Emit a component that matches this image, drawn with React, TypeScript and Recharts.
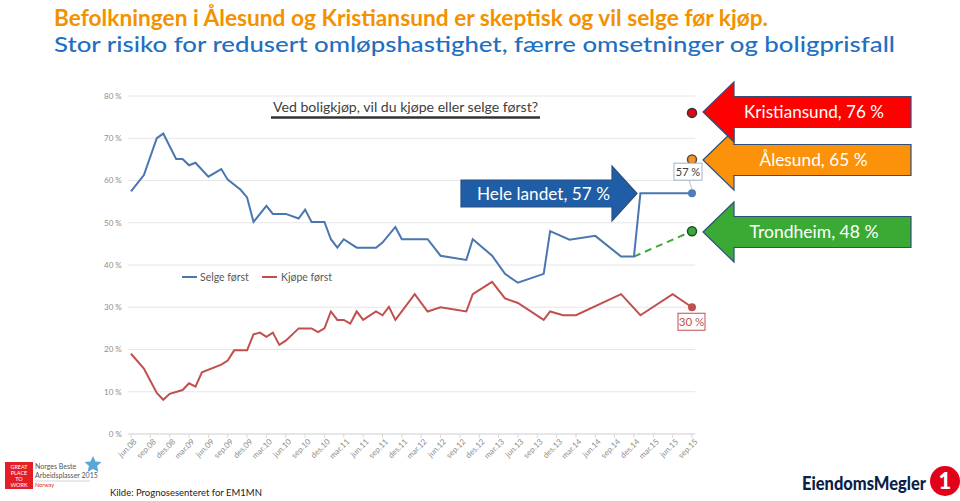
import React from 'react';
import { LineChart, Line, XAxis, YAxis, CartesianGrid, ReferenceDot, Legend } from 'recharts';

const MONTH_NAMES = ['jan', 'feb', 'mar', 'apr', 'mai', 'jun', 'jul', 'aug', 'sep', 'okt', 'nov', 'des'];

// monthly categories jun.08 .. sep.15, labelled every third month
export const months = Array.from({ length: 88 }, (_, i) => {
  const k = i + 5;
  return `${MONTH_NAMES[k % 12]}.${String(8 + Math.floor(k / 12)).padStart(2, '0')}`;
});

const yTicks = [0, 10, 20, 30, 40, 50, 60, 70, 80];

// Hele landet - "Selge først" (%), months without survey are left out
const selgeForst: [string, number][] = [
  ['jun.08', 57.4], ['aug.08', 61.3], ['okt.08', 70.0], ['nov.08', 71.1], ['jan.09', 65.1],
  ['feb.09', 65.1], ['mar.09', 63.6], ['apr.09', 64.2], ['jun.09', 60.9], ['aug.09', 62.7],
  ['sep.09', 60.2], ['nov.09', 57.8], ['des.09', 56.0], ['jan.10', 50.2], ['mar.10', 54.0],
  ['apr.10', 52.1], ['jun.10', 52.1], ['aug.10', 51.0], ['sep.10', 53.1], ['okt.10', 50.2],
  ['des.10', 50.2], ['jan.11', 46.1], ['feb.11', 44.1], ['mar.11', 46.1], ['mai.11', 44.1],
  ['aug.11', 44.1], ['sep.11', 45.3], ['nov.11', 49.0], ['des.11', 46.1], ['apr.12', 46.1],
  ['jun.12', 42.2], ['okt.12', 41.2], ['nov.12', 46.1], ['feb.13', 42.2], ['apr.13', 37.9],
  ['jun.13', 35.8], ['okt.13', 37.9], ['nov.13', 48.0], ['feb.14', 46.0], ['jun.14', 46.9],
  ['okt.14', 42.0], ['des.14', 42.0], ['jan.15', 57.0], ['sep.15', 57.0],
];

// Hele landet - "Kjøpe først" (%)
const kjopeForst: [string, number][] = [
  ['jun.08', 19.0], ['aug.08', 15.5], ['okt.08', 9.7], ['nov.08', 8.1], ['des.08', 9.5],
  ['feb.09', 10.4], ['mar.09', 12.0], ['apr.09', 11.2], ['mai.09', 14.6], ['aug.09', 16.4],
  ['sep.09', 17.4], ['okt.09', 19.8], ['des.09', 19.8], ['jan.10', 23.6], ['feb.10', 24.0],
  ['mar.10', 23.0], ['apr.10', 24.0], ['mai.10', 21.1], ['jun.10', 22.1], ['aug.10', 25.0],
  ['okt.10', 25.0], ['nov.10', 24.1], ['des.10', 25.0], ['jan.11', 29.0], ['feb.11', 27.0],
  ['mar.11', 27.0], ['apr.11', 26.1], ['mai.11', 29.0], ['jun.11', 27.0], ['aug.11', 29.0],
  ['sep.11', 28.1], ['okt.11', 30.1], ['nov.11', 27.0], ['feb.12', 33.1], ['apr.12', 29.0],
  ['jun.12', 30.0], ['okt.12', 29.0], ['nov.12', 33.1], ['feb.13', 36.0], ['apr.13', 32.1],
  ['jun.13', 31.0], ['okt.13', 27.0], ['nov.13', 29.0], ['jan.14', 28.1], ['mar.14', 28.1],
  ['okt.14', 33.1], ['jan.15', 28.1], ['jun.15', 33.1], ['sep.15', 30.0],
];

// dashed trend to Trondheim
const trondheimTrend: [string, number][] = [['des.14', 42], ['sep.15', 48]];

const cityMarkers = [
  { name: 'Kristiansund', value: 76, fill: '#e30613', stroke: '#333333' },
  { name: 'Ålesund', value: 65, fill: '#f7931e', stroke: '#4d4d4d' },
  { name: 'Trondheim', value: 48, fill: '#3aaa35', stroke: '#1d4d2a' },
];

const BLUE = '#4a76b0';
const RED = '#c0504d';
const FONT = 'Lato, "Liberation Sans", sans-serif';

const selgeMap = new Map(selgeForst);
const kjopeMap = new Map(kjopeForst);
const trondMap = new Map(trondheimTrend);

const data = months.map(m => ({
  month: m,
  selge: selgeMap.get(m) ?? null,
  kjope: kjopeMap.get(m) ?? null,
  trondheim: trondMap.get(m) ?? null,
}));

const LAST = months.length - 1;

const XTick = ({ x, y, payload }: any) => (
  <g transform={`translate(${x + 4},${y})`}>
    <text transform="rotate(-45)" textAnchor="end" dy={3} fontSize={8} fill="#8c8c8c" fontFamily={FONT}>
      {payload.value}
    </text>
  </g>
);

const SelgeDot = (props: any) => {
  const { cx, cy, index, value } = props;
  if (index !== LAST || cy == null) return <g key={`s-${index}`} />;
  return (
    <g key="s-end">
      <line x1={cx} y1={cy - 4} x2={cx - 3} y2={cy - 13} stroke="#b0b0b0" strokeWidth={0.8} />
      <rect x={cx - 18} y={cy - 30} width={28} height={17} fill="#fff" stroke="#9fb3cf" />
      <text x={cx - 4} y={cy - 17.5} textAnchor="middle" fontSize={11} fill="#404040" fontFamily={FONT}>
        {`${Math.round(value)} %`}
      </text>
      <circle cx={cx} cy={cy} r={4} fill="#4f7bb6" />
    </g>
  );
};

const KjopeDot = (props: any) => {
  const { cx, cy, index, value } = props;
  if (index !== LAST || cy == null) return <g key={`k-${index}`} />;
  return (
    <g key="k-end">
      <circle cx={cx} cy={cy} r={4} fill={RED} />
      <rect x={cx - 14} y={cy + 6} width={27} height={17} fill="#fff" stroke={RED} />
      <text x={cx - 0.5} y={cy + 19} textAnchor="middle" fontSize={11.5} fill={RED} fontFamily={FONT}>
        {`${Math.round(value)} %`}
      </text>
    </g>
  );
};

const LegendContent = () => (
  <svg width={170} height={16}>
    <line x1={2} x2={17} y1={8} y2={8} stroke={BLUE} strokeWidth={2} />
    <text x={20} y={12} fontSize={10.5} fill="#595959" fontFamily={FONT}>Selge først</text>
    <line x1={82} x2={97} y1={8} y2={8} stroke={RED} strokeWidth={2} />
    <text x={101} y={12} fontSize={10.5} fill="#595959" fontFamily={FONT}>Kjøpe først</text>
  </svg>
);

// left pointing block arrow
const leftArrow = (tipX: number, tipY: number, baseX: number, endX: number, headH: number, bodyH: number) =>
  `M${tipX},${tipY} L${baseX},${tipY - headH} L${baseX},${tipY - bodyH} L${endX},${tipY - bodyH} ` +
  `L${endX},${tipY + bodyH} L${baseX},${tipY + bodyH} L${baseX},${tipY + headH} Z`;

const rightArrow = (tipX: number, tipY: number, baseX: number, startX: number, headH: number, bodyH: number) =>
  `M${tipX},${tipY} L${baseX},${tipY - headH} L${baseX},${tipY - bodyH} L${startX},${tipY - bodyH} ` +
  `L${startX},${tipY + bodyH} L${baseX},${tipY + bodyH} L${baseX},${tipY + headH} Z`;

const Overlay = () => (
  <svg width={960} height={501} style={{ position: 'absolute', left: 0, top: 0, pointerEvents: 'none' }}>
    <text x={54} y={26} fontSize={22} fontWeight={700} fill="#f39200" fontFamily={FONT}
      textLength={714} lengthAdjust="spacingAndGlyphs">
      Befolkningen i Ålesund og Kristiansund er skeptisk og vil selge før kjøp.
    </text>
    <text x={54} y={52} fontSize={22} fontWeight={500} fill="#1f6fc2" fontFamily={FONT}
      textLength={841} lengthAdjust="spacingAndGlyphs">
      Stor risiko for redusert omløpshastighet, færre omsetninger og boligprisfall
    </text>

    <text x={273} y={112} fontSize={14} fill="#404040" fontFamily={FONT}
      textLength={265} lengthAdjust="spacingAndGlyphs">
      Ved boligkjøp, vil du kjøpe eller selge først?
    </text>
    <line x1={271} x2={540} y1={117.5} y2={117.5} stroke="#333" strokeWidth={2.5} />

    <path d={leftArrow(703, 160, 734, 911, 30, 15.5)} fill="#fb9209" stroke="#2f4f7f" strokeWidth={1.2} />
    <path d={leftArrow(703, 112, 734, 911, 30, 15.5)} fill="#ff0000" stroke="#2f4f7f" strokeWidth={1.2} />
    <path d={leftArrow(703, 232, 734, 911, 30, 15.5)} fill="#3aaa35" stroke="#2f4f7f" strokeWidth={1.2} />
    <path d={rightArrow(637, 193.5, 612, 461, 27.5, 13.5)} fill="#1f5ea6" stroke="#2f4f7f" strokeWidth={1.2} />

    <text x={814} y={118} textAnchor="middle" fontSize={17} fill="#fff" fontFamily={FONT}
      textLength={140} lengthAdjust="spacingAndGlyphs">Kristiansund, 76 %</text>
    <text x={813.5} y={166} textAnchor="middle" fontSize={17} fill="#fff" fontFamily={FONT}
      textLength={108} lengthAdjust="spacingAndGlyphs">Ålesund, 65 %</text>
    <text x={814} y={238} textAnchor="middle" fontSize={17} fill="#fff" fontFamily={FONT}
      textLength={129} lengthAdjust="spacingAndGlyphs">Trondheim, 48 %</text>
    <text x={543.5} y={199.5} textAnchor="middle" fontSize={17} fill="#fff" fontFamily={FONT}
      textLength={133} lengthAdjust="spacingAndGlyphs">Hele landet, 57 %</text>

    {/* Great Place to Work badge */}
    <rect x={5} y={462} width={28} height={27} fill="#e31e24" />
    <text x={19} y={468.5} textAnchor="middle" fontSize={5.5} fill="#fff" fontFamily={FONT}>GREAT</text>
    <text x={19} y={474.5} textAnchor="middle" fontSize={5.5} fill="#fff" fontFamily={FONT}>PLACE</text>
    <text x={19} y={480.5} textAnchor="middle" fontSize={5.5} fill="#fff" fontFamily={FONT}>TO</text>
    <text x={19} y={486.5} textAnchor="middle" fontSize={5.5} fill="#fff" fontFamily={FONT}>WORK</text>
    <text x={35} y={469} fontSize={7} fill="#555" fontFamily={FONT}>Norges Beste</text>
    <text x={35} y={478} fontSize={7} fill="#555" fontFamily={FONT}>Arbeidsplasser 2015</text>
    <line x1={35} x2={90} y1={481} y2={481} stroke="#bbb" strokeWidth={0.6} />
    <text x={35} y={487} fontSize={5.5} fill="#e31e24" fontFamily={FONT}>Norway</text>
    <path d="M93,456 L95.5,461.5 L101.5,462 L97,466 L98.5,472 L93,469 L87.5,472 L89,466 L84.5,462 L90.5,461.5 Z"
      fill="#5aa7d6" />
    <text x={110} y={496} fontSize={9.5} fill="#222" fontFamily={FONT}>Kilde: Prognosesenteret for EM1MN</text>

    {/* EiendomsMegler 1 logo */}
    <text x={802} y={490} fontSize={18} fontWeight={900} fill="#0b1f4b" fontFamily={FONT}
      textLength={124} lengthAdjust="spacingAndGlyphs">EiendomsMegler</text>
    <circle cx={945} cy={481} r={15} fill="#e2001a" />
    <text x={945} y={489} textAnchor="middle" fontSize={22} fontWeight={900} fill="#fff" fontFamily={FONT}>1</text>
  </svg>
);

const App = () => (
  <div style={{ position: 'absolute', left: 0, top: 0, width: 960, height: 501, background: '#fff', overflow: 'hidden' }}>
    <LineChart width={960} height={501} data={data} margin={{ top: 96, right: 264.8, bottom: 27, left: 0 }}>
      <CartesianGrid vertical={false} stroke="#e6e6e6" />
      <XAxis
        dataKey="month"
        interval={2}
        padding={{ left: 3.2, right: 3.2 }}
        height={40}
        tick={<XTick />}
        tickSize={4}
        tickMargin={2}
        axisLine={{ stroke: '#d9d9d9' }}
        tickLine={{ stroke: '#d9d9d9' }}
      />
      <YAxis
        domain={[0, 80]}
        ticks={yTicks}
        width={127.8}
        axisLine={false}
        tickLine={false}
        tickMargin={0}
        tickSize={6}
        tickFormatter={(v: number) => `${v} %`}
        tick={{ fontSize: 8, fill: '#8c8c8c', fontFamily: FONT }}
      />
      <Legend verticalAlign="middle" align="center" content={<LegendContent />}
        wrapperStyle={{ left: 180, top: 269, width: 170, height: 16 }} />
      <Line type="linear" dataKey="trondheim" stroke="#3aaa35" strokeWidth={2} strokeDasharray="7 5"
        connectNulls dot={false} isAnimationActive={false} legendType="none" />
      <Line type="linear" dataKey="selge" stroke={BLUE} strokeWidth={2} connectNulls
        dot={SelgeDot} activeDot={false} isAnimationActive={false} />
      <Line type="linear" dataKey="kjope" stroke={RED} strokeWidth={2} connectNulls
        dot={KjopeDot} activeDot={false} isAnimationActive={false} />
      {cityMarkers.map(c => (
        <ReferenceDot key={c.name} x={months[LAST]} y={c.value} r={4.5} fill={c.fill}
          stroke={c.stroke} strokeWidth={1.5} ifOverflow="visible" />
      ))}
    </LineChart>
    <Overlay />
  </div>
);

export default App;
